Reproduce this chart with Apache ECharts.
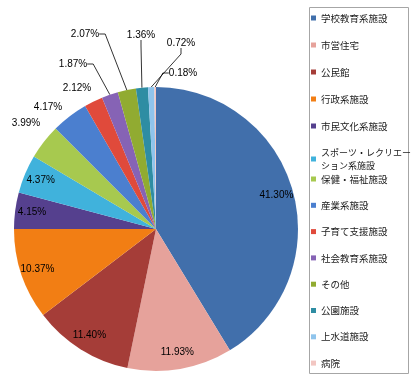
<!DOCTYPE html>
<html><head><meta charset="utf-8">
<script src="https://cdn.jsdelivr.net/npm/echarts@6/dist/echarts.min.js"></script>
<style>html,body{margin:0;padding:0;background:#fff}#c{width:411px;height:376px}</style>
</head><body><div id="c"></div>
<script>
// ---- data ----
const categories = ['学校教育系施設','市営住宅','公民館','行政系施設','市民文化系施設','スポーツ・レクリエーション系施設','保健・福祉施設','産業系施設','子育て支援施設','社会教育系施設','その他','公園施設','上水道施設','病院'];
const shares = [41.30, 11.93, 11.40, 10.37, 4.15, 4.37, 3.99, 4.17, 2.12, 1.87, 2.07, 1.36, 0.72, 0.18];

// ---- styles / layout ----
const palette = ['#416FAB','#E6A29B','#A53D38','#F27E14','#55408E','#40B2DC','#A7C94F','#4B7FCF','#E04A3B','#8663B5','#91AB31','#2E8DA3','#8FC4EC','#F2C6C2'];
const CX = 156, CY = 229, R = 142;
const insideCount = 6;          // first slices carry their label inside
const insideRadius = 120;
const noLeader = [6, 7, 8];
const outsideSpots = {6:[26,123],7:[48,107],8:[77,88],9:[73,64],10:[85,34],11:[141,35],12:[181,43],13:[183,73]};

const seriesData = categories.map((name, i) => ({
  name, value: shares[i],
  label: { position: i < insideCount ? 'inside' : 'outside' },
  labelLine: { show: i >= insideCount && noLeader.indexOf(i) < 0 }
}));

const legendCommon = {
  orient: 'vertical', left: 311, padding: 0, icon: 'rect',
  itemWidth: 5, itemHeight: 5, selectedMode: false,
  textStyle: { fontSize: 9.5, color: '#1a1a1a', fontFamily: 'Noto Sans CJK JP', lineHeight: 12 }
};

const chart = echarts.init(document.getElementById('c'), null, { renderer: 'canvas' });
chart.setOption({
  animation: false,
  backgroundColor: '#fff',
  color: palette,
  graphic: [{ type: 'rect', silent: true, z: -1,
    shape: { x: 309.5, y: 7.5, width: 99, height: 366 },
    style: { fill: 'none', stroke: '#a6a6a6', lineWidth: 1 } }],
  legend: [
    Object.assign({}, legendCommon, { data: categories.slice(0, 5), top: 12, itemGap: 15 }),
    Object.assign({}, legendCommon, { data: [categories[5]], top: 146,
      formatter: n => n.slice(0, 10) + '\n' + n.slice(10),
      textStyle: { fontSize: 9, color: '#1a1a1a', fontFamily: 'Noto Sans CJK JP', lineHeight: 13 } }),
    Object.assign({}, legendCommon, { data: categories.slice(6), top: 173, itemGap: 14.3 })
  ],
  series: [{
    type: 'pie',
    center: [CX, CY], radius: R,
    startAngle: 90, clockwise: true,
    avoidLabelOverlap: false,
    emphasis: { disabled: true },
    itemStyle: { borderWidth: 0 },
    label: {
      show: true, color: '#000', fontSize: 10, fontFamily: 'Liberation Sans',
      formatter: p => p.value.toFixed(2) + '%'
    },
    labelLine: { length: 6, length2: 6, smooth: false, lineStyle: { color: '#000', width: 0.8 } },
    labelLayout: function (p) {
      const i = p.dataIndex;
      if (i < insideCount) {
        const lx = p.labelRect.x + p.labelRect.width / 2;
        const ly = p.labelRect.y + p.labelRect.height / 2;
        const k = insideRadius / (R / 2);
        return { x: CX + (lx - CX) * k, y: CY + (ly - CY) * k, align: 'center', verticalAlign: 'middle' };
      }
      const s = outsideSpots[i];
      return { x: s[0], y: s[1], align: 'center', verticalAlign: 'middle' };
    },
    data: seriesData
  }]
});
</script></body></html>
